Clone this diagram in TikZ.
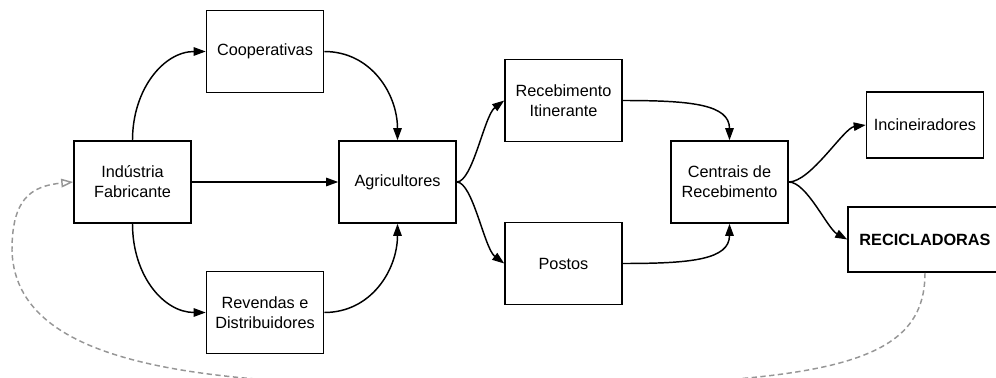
\documentclass[tikz,border=0pt]{standalone}
\usepackage{fontspec}
\setmainfont{Liberation Sans}
\usetikzlibrary{arrows.meta}
\definecolor{loopgray}{RGB}{150,150,150}
\begin{document}
\begin{tikzpicture}[x=0.75pt,y=-0.75pt,
  box/.style={draw=black,line width=1.15pt,fill=white,inner sep=0pt,
    minimum width=87.75pt,minimum height=61.5pt,align=center,
    font=\fontsize{12.2}{15}\selectfont},
  flow/.style={line width=1.1pt,-{Triangle[length=9pt,width=6.3pt]}},
  backflow/.style={line width=1.1pt,draw=loopgray,dash pattern=on 4pt off 2.6pt,
    -{Triangle[open,length=9pt,width=6.5pt]}}
]
\useasboundingbox (0,0) rectangle (996,378);

% boxes
\node[box] (ind) at (132.5,182) {Indústria\\Fabricante};
\node[box] (coop) at (265,51.5) {Cooperativas};
\node[box] (rev) at (265,312.5) {Revendas e\\Distribuidores};
\node[box] (agr) at (397.5,182) {Agricultores};
\node[box] (rec) at (563.5,100.5) {Recebimento\\Itinerante};
\node[box] (pos) at (563.5,263.5) {Postos};
\node[box] (cen) at (729.5,182) {Centrais de\\Recebimento};
\node[box,minimum height=49.5pt] (inc) at (925,125) {Incineiradores};
\node[box,minimum width=115.5pt,minimum height=48.75pt,font=\fontsize{12.2}{15}\selectfont\bfseries]
  (rcl) at (925,239.5) {RECICLADORAS};

% forward flow
\draw[flow] (ind.north) .. controls +(0,-51) and +(-42,0) .. (coop.west);
\draw[flow] (ind.south) .. controls +(0,52) and +(-42,0) .. (rev.west);
\draw[flow] (ind.east) -- (agr.west);
\draw[flow] (coop.east) .. controls +(47,0) and +(0,-46) .. (agr.north);
\draw[flow] (rev.east) .. controls +(47,0) and +(0,46) .. (agr.south);
\draw[flow] (agr.east) .. controls +(16,0) and +(-20,15) .. (rec.west);
\draw[flow] (agr.east) .. controls +(16,0) and +(-20,-15) .. (pos.west);
\draw[flow] (rec.east) .. controls +(68,0) and +(0,-36) .. (cen.north);
\draw[flow] (pos.east) .. controls +(68,0) and +(0,36) .. (cen.south);
\draw[flow] (cen.east) .. controls +(22,0) and +(-22,3) .. (inc.west);
\draw[flow] (cen.east) .. controls +(18,0) and +(-20,-11) .. (rcl.west);

% return loop back to the industry
\coordinate (loopbottom) at (500,386);
\coordinate (loopleft) at (12,250);
\draw[backflow] (rcl.south) .. controls +(0,92) and (830,386) .. (loopbottom)
  .. controls (250,386) and (15,380) .. (loopleft)
  .. controls (12,200) and (30,186) .. (ind.west);
\end{tikzpicture}
\end{document}
